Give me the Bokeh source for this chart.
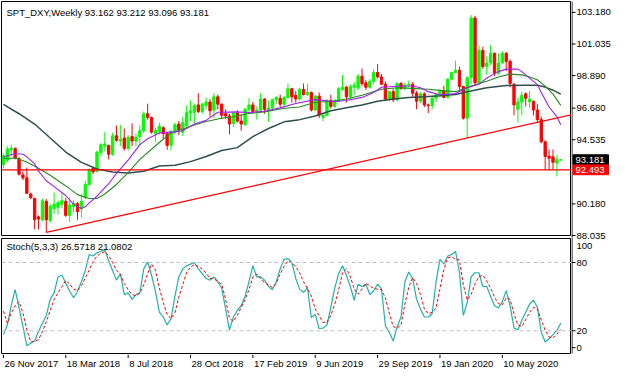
from bokeh.plotting import figure
from bokeh.models import ColumnDataSource, Range1d, Span, Label
from bokeh.layouts import column, row
from bokeh.core.properties import value
from bokeh.embed import file_html
from bokeh.resources import INLINE

# ---------------- data (weekly bars, index 0 = week of 26 Nov 2017) ----------------
opens = [92.85, 93.15, 93.85, 93.95, 93.25, 92.15, 91.95, 90.85, 90.55, 89.30,
         89.10, 90.35, 89.05, 89.85, 89.95, 90.15, 90.35, 89.40, 90.00, 90.20,
         89.85, 90.60, 91.50, 92.60, 92.40, 93.65, 94.10, 94.15, 93.55, 94.80,
         94.45, 94.65, 93.95, 94.75, 94.45, 94.75, 95.15, 96.30, 96.05, 94.95,
         95.10, 95.35, 94.95, 94.15, 95.05, 95.60, 95.05, 95.50, 96.35, 96.40,
         96.90, 96.45, 96.85, 97.10, 96.55, 97.45, 96.95, 96.30, 96.15, 95.65,
         96.35, 95.80, 95.55, 96.60, 96.90, 96.45, 96.55, 97.30, 96.55, 96.70,
         97.25, 97.35, 96.95, 97.40, 98.00, 97.55, 97.30, 97.95, 97.60, 97.75,
         96.55, 97.50, 96.05, 96.20, 97.20, 96.80, 97.15, 97.95, 98.10, 97.45,
         98.10, 98.05, 98.85, 98.40, 98.10, 98.50, 99.10, 98.80, 98.30, 97.30,
         97.80, 97.25, 98.35, 98.00, 98.25, 98.30, 97.70, 97.15, 97.65, 96.90,
         96.85, 97.35, 97.60, 97.85, 97.40, 98.65, 99.10, 99.25, 98.15, 96.00,
         98.75, 102.80, 98.40, 100.60, 99.50, 99.75, 100.40, 99.05, 99.75, 100.40,
         99.85, 98.30, 96.60, 97.10, 97.65, 97.10, 97.15, 96.55, 95.90, 94.40,
         93.42, 93.37, 92.95, 93.162]
highs = [93.60, 94.10, 94.20, 94.00, 93.35, 92.40, 92.65, 90.95, 90.60, 89.40,
         90.55, 90.50, 90.20, 90.95, 90.40, 90.90, 90.60, 90.60, 90.45, 90.30,
         90.85, 91.75, 92.60, 92.70, 93.80, 94.30, 95.05, 94.20, 95.00, 95.50,
         95.55, 95.30, 94.85, 95.65, 94.95, 95.50, 96.45, 96.98, 96.10, 95.35,
         95.70, 95.45, 95.00, 95.20, 95.70, 95.80, 96.10, 96.85, 97.20, 97.00,
         97.70, 97.05, 97.40, 97.30, 97.70, 97.60, 97.00, 96.60, 96.30, 96.40,
         96.55, 96.30, 96.70, 97.35, 97.10, 96.80, 97.70, 97.35, 97.20, 97.30,
         97.50, 97.60, 97.50, 98.35, 98.05, 97.85, 98.05, 98.35, 98.35, 97.80,
         97.55, 97.75, 96.35, 97.30, 97.60, 97.30, 98.10, 98.93, 98.20, 98.30,
         98.45, 99.00, 99.37, 98.60, 98.65, 99.30, 99.67, 99.00, 98.50, 97.85,
         98.00, 98.45, 98.45, 98.40, 98.55, 98.45, 97.85, 97.75, 97.75, 97.00,
         97.45, 97.65, 97.95, 98.20, 98.70, 99.15, 99.90, 99.50, 98.20, 98.85,
         103.00, 102.95, 100.95, 100.85, 100.20, 100.95, 100.45, 100.40, 100.55, 100.50,
         100.00, 98.40, 97.40, 97.80, 97.75, 97.85, 97.20, 96.95, 96.10, 94.50,
         93.87, 93.87, 93.50, 93.212]
lows = [92.60, 93.00, 93.40, 93.20, 92.10, 91.80, 90.85, 90.50, 88.45, 88.45,
        89.00, 88.25, 88.90, 89.50, 89.45, 89.90, 89.30, 88.95, 89.60, 89.10,
        89.25, 90.50, 91.40, 92.20, 92.30, 93.40, 93.75, 93.20, 93.45, 94.40,
        94.10, 93.80, 93.80, 94.10, 94.10, 94.10, 95.00, 95.90, 94.95, 94.40,
        94.90, 94.60, 93.85, 93.80, 94.95, 94.85, 94.80, 95.40, 95.80, 95.65,
        96.35, 96.30, 96.60, 96.10, 96.00, 96.60, 95.95, 95.95, 94.90, 95.40,
        95.70, 95.15, 95.50, 96.45, 96.30, 95.90, 96.50, 96.30, 95.75, 96.60,
        96.95, 96.75, 96.75, 97.30, 97.05, 97.05, 97.20, 97.55, 97.50, 96.45,
        96.50, 96.00, 95.80, 96.15, 96.65, 96.70, 97.10, 97.85, 97.05, 97.25,
        97.55, 97.90, 98.20, 97.90, 98.00, 98.30, 98.70, 98.30, 97.15, 97.15,
        97.10, 97.15, 97.95, 97.90, 98.10, 97.45, 96.60, 97.05, 96.75, 96.35,
        96.60, 97.10, 97.40, 97.35, 97.35, 98.55, 99.05, 97.90, 95.90, 94.65,
        98.30, 98.25, 98.35, 99.35, 98.95, 99.60, 98.85, 98.95, 99.70, 99.20,
        98.10, 96.20, 95.70, 96.20, 96.80, 96.70, 96.20, 95.70, 94.30, 92.50,
        92.50, 92.50, 92.05, 93.096]
closes = [93.45, 93.90, 93.95, 93.30, 92.20, 91.95, 90.90, 90.60, 89.10, 89.15,
          90.40, 89.10, 90.00, 90.15, 90.25, 90.40, 89.40, 90.10, 90.20, 89.65,
          90.35, 91.50, 92.50, 92.35, 93.70, 94.20, 94.25, 93.55, 94.80, 94.50,
          94.55, 93.95, 94.70, 94.45, 94.70, 95.15, 96.30, 96.05, 95.05, 95.15,
          95.45, 94.95, 94.15, 95.10, 95.55, 95.20, 95.70, 96.40, 96.50, 96.85,
          96.45, 96.95, 97.10, 96.50, 97.45, 96.95, 96.20, 96.15, 95.60, 96.35,
          95.80, 95.60, 96.60, 96.90, 96.45, 96.55, 97.30, 96.60, 96.70, 97.25,
          97.40, 96.95, 97.40, 98.00, 97.45, 97.30, 97.95, 97.60, 97.75, 96.55,
          97.50, 96.20, 96.20, 97.15, 96.80, 97.15, 98.00, 98.10, 97.45, 98.15,
          98.25, 98.85, 98.35, 98.10, 98.50, 99.10, 98.80, 98.30, 97.30, 97.80,
          97.25, 98.35, 98.00, 98.25, 98.30, 97.70, 97.15, 97.65, 96.90, 96.85,
          97.35, 97.60, 97.85, 97.40, 98.65, 99.10, 99.25, 98.15, 96.00, 98.75,
          102.80, 98.40, 100.60, 99.50, 99.75, 100.40, 99.05, 99.75, 100.40, 99.85,
          98.35, 96.90, 97.10, 97.55, 97.35, 97.30, 96.55, 95.90, 94.40, 93.40,
          93.28, 93.00, 93.20, 93.181]

# moving averages (bar index, value)
fast_ma_idx = [0, 3, 5, 6, 8, 9, 11, 13, 16, 18, 20, 21, 22, 24, 27, 29, 32, 35, 37, 40,
               44, 46, 49, 52, 55, 60, 63, 67, 71, 75, 80, 85, 88, 92, 95, 97, 102, 105,
               107, 109, 112, 116, 119, 122, 124, 127, 129, 132, 133, 135, 137, 138, 140,
               142, 143]
fast_ma_val = [93.37, 93.60, 93.55, 93.37, 92.90, 92.40, 91.75, 91.35, 90.75, 90.15,
               89.87, 89.98, 90.25, 90.70, 91.55, 92.25, 93.15, 94.20, 94.60, 95.00,
               95.07, 95.15, 95.60, 95.85, 96.40, 96.43, 96.38, 96.47, 96.70, 97.00,
               97.26, 97.13, 97.20, 97.41, 97.74, 98.10, 98.18, 98.18, 98.07, 97.80,
               97.59, 97.67, 98.07, 98.30, 98.72, 99.16, 99.33, 99.33, 99.16, 98.72,
               98.28, 97.75, 96.76, 96.10, 95.55]
mid_ma_idx = [0, 3, 6, 9, 12, 16, 19, 22, 24, 26, 29, 32, 35, 40, 43, 48, 52, 56, 59, 63,
              67, 71, 73, 76, 80, 84, 88, 92, 97, 101, 105, 109, 112, 116, 120, 124, 127,
              130, 133, 135, 137, 139, 141, 143]
mid_ma_val = [93.26, 93.30, 93.02, 92.60, 92.12, 91.40, 90.81, 90.55, 90.55, 90.85,
              91.50, 92.30, 93.20, 94.35, 95.00, 95.45, 95.77, 95.99, 96.10, 96.32,
              96.43, 96.62, 96.69, 96.76, 97.08, 97.13, 97.30, 97.56, 97.96, 98.07,
              98.02, 97.96, 97.89, 97.80, 98.18, 98.51, 98.79, 98.99, 98.94, 98.79,
              98.61, 98.18, 97.63, 96.87]
slow_ma_idx = [0, 4, 8, 12, 16, 20, 24, 28, 32, 36, 40, 44, 48, 52, 56, 60, 64, 68, 72, 76,
               80, 84, 88, 92, 96, 100, 104, 108, 112, 116, 119, 124, 129, 134, 137, 139,
               141, 143]
slow_ma_val = [96.93, 96.30, 95.60, 94.65, 93.70, 93.00, 92.55, 92.35, 92.28, 92.40,
               92.75, 92.80, 93.05, 93.40, 93.80, 94.00, 94.75, 95.30, 95.75, 95.90,
               96.15, 96.50, 96.70, 96.90, 97.15, 97.30, 97.40, 97.45, 97.52, 97.60,
               97.79, 98.07, 98.22, 98.24, 98.24, 98.11, 97.90, 97.63]

# trend line anchors (bar index, price) and horizontal level
trend_idx = [11, 119]
trend_val = [88.25, 94.65]
level_price = 92.493
last_price = 93.181

# Stochastic(5,3,3)
stoch_k = [16.6, 25.0, 42.0, 56.1, 40.6, 23.7, 6.8, 9.0, 11.0, 19.4,
           26.5, 33.5, 47.6, 53.3, 67.3, 68.8, 61.7, 54.7, 49.0, 54.7,
           63.1, 73.0, 87.0, 85.7, 88.5, 89.9, 91.3, 81.4, 73.0, 64.5,
           70.2, 51.8, 53.3, 47.6, 51.8, 53.3, 74.4, 80.6, 68.8, 54.7,
           36.3, 32.1, 25.1, 30.7, 50.4, 67.3, 74.4, 77.2, 78.6, 80.0,
           74.4, 70.2, 65.9, 64.5, 67.3, 63.1, 57.5, 39.2, 20.8, 32.1,
           37.8, 42.0, 50.4, 63.1, 77.2, 67.3, 67.3, 64.5, 58.9, 56.1,
           63.1, 74.4, 82.8, 83.4, 80.0, 66.0, 56.6, 53.8, 58.0, 31.6,
           34.4, 22.0, 22.3, 25.0, 40.6, 57.5, 70.2, 77.2, 68.8, 58.9,
           46.8, 60.9, 58.9, 60.9, 51.8, 55.2, 60.9, 56.9, 24.2, 18.6,
           11.0, 23.1, 32.1, 63.1, 71.6, 65.9, 47.6, 39.2, 32.1, 32.1,
           34.9, 63.1, 82.8, 78.6, 85.7, 87.1, 89.6, 71.6, 33.5, 44.8,
           67.3, 71.0, 71.0, 58.9, 58.9, 50.4, 42.0, 40.0, 45.6, 55.2,
           42.0, 22.3, 20.9, 29.3, 36.3, 43.4, 46.8, 40.6, 18.6, 10.1,
           13.0, 16.6, 20.3, 26.5718]
stoch_d = [37.2, 26.5, 35.5, 42.0, 45.6, 35.5, 20.8, 10.1, 10.7, 12.1,
           19.4, 27.9, 37.8, 47.6, 53.3, 58.9, 64.2, 60.9, 56.6, 55.5,
           59.5, 66.5, 73.3, 80.9, 85.7, 88.2, 89.6, 86.2, 80.0, 73.3,
           69.6, 61.7, 56.1, 51.8, 50.7, 53.0, 60.3, 70.2, 78.6, 73.3,
           57.5, 44.8, 34.4, 30.7, 35.8, 49.6, 60.3, 71.6, 75.8, 78.3,
           76.6, 74.1, 70.7, 65.9, 65.9, 63.1, 60.9, 47.6, 30.7, 28.5,
           33.5, 40.6, 47.6, 56.1, 67.3, 69.9, 65.9, 62.3, 60.3, 58.0,
           61.7, 69.9, 76.6, 81.4, 79.7, 76.4, 71.0, 63.1, 57.5, 50.4,
           39.2, 33.0, 27.3, 27.3, 33.5, 43.4, 55.8, 71.0, 74.4, 67.6,
           56.6, 52.1, 56.6, 61.7, 59.5, 57.2, 56.6, 56.1, 49.0, 35.5,
           23.7, 22.3, 25.1, 43.4, 58.3, 66.8, 61.7, 51.8, 39.2, 34.9,
           36.3, 40.0, 56.9, 73.8, 84.0, 85.1, 82.8, 82.3, 60.3, 47.1,
           51.8, 61.4, 67.6, 68.8, 63.7, 57.5, 49.5, 43.9, 42.8, 49.0,
           47.6, 34.9, 25.1, 23.7, 29.9, 36.3, 40.6, 39.2, 29.3, 20.6,
           14.4, 13.8, 17.0, 21.0802]

price_ticks = [88.035, 90.180, 94.535, 96.680, 98.890, 101.035, 103.180]
price_tick_labels = ["88.035", "90.180", "94.535", "96.680", "98.890", "101.035", "103.180"]
stoch_levels = [20, 80]
stoch_ticks = [5.1, 20, 80]
stoch_tick_labels = ["0", "20", "80"]
stoch_top_label = "100"
date_ticks = [0, 16, 32, 48, 64, 80, 96, 112, 128]
date_labels = ["26 Nov 2017", "18 Mar 2018", "8 Jul 2018", "28 Oct 2018", "17 Feb 2019",
               "9 Jun 2019", "29 Sep 2019", "19 Jan 2020", "10 May 2020"]

title_text = "SPT_DXY,Weekly  93.162 93.212 93.096 93.181"
stoch_text = "Stoch(5,3,3) 26.5718 21.0802"

# ---------------- layout constants (pixels) ----------------
FONT = "Liberation Sans"
FS_AX = "9.5px"
FS_TT = "9.5px"
BULL = "#00FF00"
BEAR = "#FF0000"

FW = 570            # plot frame width
AXW = 40            # right axis column width
TOP1, FH1, BOT1 = 1, 234, 1
TOP2, FH2, BOT2 = 2, 115, 1
DH = 16
H_TOTAL = TOP1 + FH1 + BOT1 + TOP2 + FH2 + BOT2 + DH

P_BOT, P_TOP = 88.035, 103.92
S_BOT, S_TOP = 0.0, 101.1
X0, X1 = -0.5, 145.75

n = len(closes)
xs = list(range(n))
src = ColumnDataSource(dict(
    x=xs,
    top=[max(o, c) for o, c in zip(opens, closes)],
    bottom=[min(o, c) for o, c in zip(opens, closes)],
    high=highs, low=lows,
    color=[BULL if c >= o else BEAR for o, c in zip(opens, closes)],
))

x_range = Range1d(X0, X1)


def base(p, outline=True):
    p.background_fill_color = "white"
    p.border_fill_color = "white"
    p.outline_line_color = "black" if outline else None
    p.outline_line_width = 1
    p.grid.visible = False
    return p


# ---------------- price panel ----------------
p1 = base(figure(frame_width=FW, frame_height=FH1, x_range=x_range, y_range=Range1d(P_BOT, P_TOP),
                 x_axis_location=None, y_axis_location=None, toolbar_location=None,
                 output_backend="svg", min_border_left=1, min_border_right=0,
                 min_border_top=TOP1, min_border_bottom=BOT1))

p1.segment(x0="x", y0="low", x1="x", y1="high", line_color="color", line_width=1, source=src)
p1.vbar(x="x", width=0.6, top="top", bottom="bottom", fill_color="color", line_color="color",
        line_width=1, source=src)

p1.line(slow_ma_idx, slow_ma_val, line_color="#2F4F4F", line_width=1.5)
p1.line(mid_ma_idx, mid_ma_val, line_color="#228B22", line_width=1.1)
p1.line(fast_ma_idx, fast_ma_val, line_color="#A020F0", line_width=1.1)

slope = (trend_val[1] - trend_val[0]) / (trend_idx[1] - trend_idx[0])
p1.line([trend_idx[0], X1], [trend_val[0], trend_val[0] + slope * (X1 - trend_idx[0])],
        line_color="#FF0000", line_width=1.2)
p1.add_layout(Span(location=level_price, dimension="width", line_color="#FF0000", line_width=1.2))

u = (P_TOP - P_BOT) / FH1  # price units per pixel
p1.add_layout(Label(x=X0, y=P_TOP - 11 * u, x_offset=5, text=title_text, text_font=FONT,
                    text_font_size=FS_TT, text_baseline="middle", text_color="black"))

# ---------------- stochastic panel ----------------
p2 = base(figure(frame_width=FW, frame_height=FH2, x_range=x_range, y_range=Range1d(S_BOT, S_TOP),
                 x_axis_location=None, y_axis_location=None, toolbar_location=None,
                 output_backend="svg", min_border_left=1, min_border_right=0,
                 min_border_top=TOP2, min_border_bottom=BOT2))
for lvl in stoch_levels:
    p2.add_layout(Span(location=lvl, dimension="width", line_color="#C0C0C0", line_width=1,
                       line_dash="4 3"))
p2.line(xs, stoch_k, line_color="#20B2AA", line_width=1.2)
p2.line(xs, stoch_d, line_color="#FF0000", line_width=1, line_dash="3 2")
s = (S_TOP - S_BOT) / FH2
p2.add_layout(Label(x=X0, y=S_TOP - 8 * s, x_offset=5, text=stoch_text, text_font=FONT,
                    text_font_size=FS_TT, text_baseline="middle", text_color="black"))

# ---------------- date strip ----------------
d = base(figure(frame_width=FW, frame_height=DH, x_range=x_range, y_range=Range1d(0, DH),
                x_axis_location=None, y_axis_location=None, toolbar_location=None,
                output_backend="svg", min_border_left=1, min_border_right=0,
                min_border_top=0, min_border_bottom=0), outline=False)
d.segment(x0=date_ticks, y0=[DH] * len(date_ticks), x1=date_ticks, y1=[DH - 3.5] * len(date_ticks),
          line_color="black", line_width=1)
d.text(x=date_ticks, y=[DH - 8.6] * len(date_ticks), text=date_labels, x_offset=1,
       text_font=value(FONT), text_font_size=FS_AX, text_align="left", text_baseline="middle",
       text_color="black")

# ---------------- right axis column ----------------
AX_FH = H_TOTAL - 2
price_ext = Range1d(P_BOT - (AX_FH - TOP1 - FH1) * u, P_TOP + TOP1 * u)
y2_top = TOP1 + FH1 + BOT1 + TOP2
stoch_ext = Range1d(S_BOT - (AX_FH - y2_top - FH2) * s, S_TOP + y2_top * s)

a = base(figure(frame_width=AXW, frame_height=AX_FH, x_range=Range1d(0, AXW),
                y_range=Range1d(0, AX_FH), x_axis_location=None, y_axis_location=None,
                toolbar_location=None, output_backend="svg", min_border_left=0,
                min_border_right=0, min_border_top=0, min_border_bottom=2), outline=False)
a.extra_y_ranges = {"price": price_ext, "stoch": stoch_ext}

# axis line along the right of both panels
a.segment(x0=[0.5], y0=[AX_FH - TOP1], x1=[0.5], y1=[AX_FH - y2_top - FH2],
          line_color="black", line_width=1)

a.segment(x0=[0] * len(price_ticks), y0=price_ticks, x1=[4] * len(price_ticks), y1=price_ticks,
          line_color="black", line_width=1, y_range_name="price")
a.text(x=[5] * len(price_ticks), y=price_ticks, text=price_tick_labels, y_range_name="price",
       text_font=value(FONT), text_font_size=FS_AX, text_baseline="middle", text_align="left",
       text_color="black")

a.segment(x0=[0] * len(stoch_ticks), y0=stoch_ticks, x1=[4] * len(stoch_ticks), y1=stoch_ticks,
          line_color="black", line_width=1, y_range_name="stoch")
a.text(x=[5] * len(stoch_ticks), y=stoch_ticks, text=stoch_tick_labels, y_range_name="stoch",
       text_font=value(FONT), text_font_size=FS_AX, text_baseline="middle", text_align="left",
       text_color="black")
# "100" sits just inside the top of the stochastic window, as MT4 draws it
a.text(x=[5], y=[S_TOP], y_offset=[7], text=[stoch_top_label], y_range_name="stoch",
       text_font=value(FONT), text_font_size=FS_AX, text_baseline="middle", text_align="left",
       text_color="black")

# price boxes (last price, horizontal level)
box_prices = [last_price, level_price]
box_colors = ["black", "#FF0000"]
a.quad(left=[1.5] * 2, right=[37] * 2, top=[p + 4.9 * u for p in box_prices],
       bottom=[p - 4.9 * u for p in box_prices], fill_color=box_colors, line_color=box_colors,
       y_range_name="price")
a.text(x=[4] * 2, y=box_prices, text=[f"{p:.3f}" for p in box_prices], y_range_name="price",
       text_font=value(FONT), text_font_size=FS_AX, text_baseline="middle", text_align="left",
       text_color="white")

layout = row(column(p1, p2, d, spacing=0), a, spacing=0)
open("out.html", "w").write(file_html(layout, INLINE))
